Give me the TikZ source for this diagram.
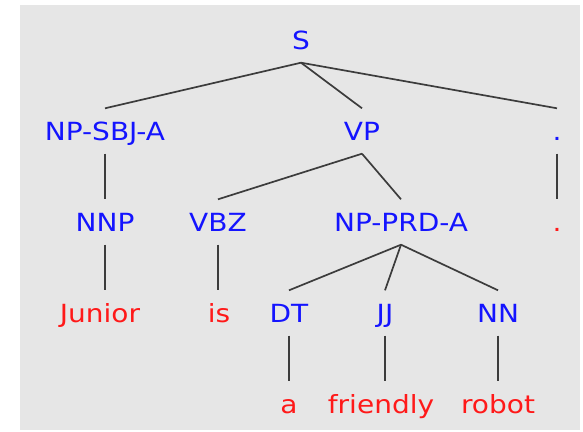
\documentclass[tikz,border=0pt]{standalone}
\usepackage{fontspec}
\newfontfamily\treefont[FakeStretch=1.12]{DejaVu Sans}
\definecolor{panel}{RGB}{230,230,230}
\definecolor{cat}{RGB}{20,20,255}
\definecolor{word}{RGB}{255,25,25}
\definecolor{edge}{RGB}{60,60,60}
\begin{document}
\begin{tikzpicture}[x=1pt,y=-1pt,
  lbl/.style={anchor=base,inner xsep=0pt,inner ysep=13.5pt,text height=18pt,text depth=0pt,
    font=\treefont\fontsize{25}{30}\selectfont},
  tag/.style={lbl,text=cat},
  leaf/.style={lbl,text=word},
  branch/.style={draw=edge,line width=1.7pt}]
\useasboundingbox (0,0) rectangle (583,431);
\fill[panel] (20,5) rectangle (580,430);

% phrase and part-of-speech labels
\node[tag] (s)    at (301,49)  {S};
\node[tag] (npsbj) at (105,140) {NP-SBJ-A};
\node[tag] (vp)   at (362,140) {VP};
\node[tag] (pt1)  at (557,140) {.};
\node[tag] (nnp)  at (105,231) {NNP};
\node[tag] (vbz)  at (218,231) {VBZ};
\node[tag] (npprd) at (401,231) {NP-PRD-A};
\node[tag] (dt)   at (289,322) {DT};
\node[tag] (jj)   at (385,322) {JJ};
\node[tag] (nn)   at (498,322) {NN};

% words
\node[leaf] (w1) at (100,322) {Junior};
\node[leaf] (w2) at (219,322) {is};
\node[leaf] (pt2) at (557,231) {.};
\node[leaf] (w3) at (289,413) {a};
\node[leaf] (w4) at (381,413) {friendly};
\node[leaf] (w5) at (498,413) {robot};

% branches
\draw[branch] (s.south) -- (npsbj.north);
\draw[branch] (s.south) -- (vp.north);
\draw[branch] (s.south) -- (pt1.north);
\draw[branch] (npsbj.south) -- (nnp.north);
\draw[branch] (vp.south) -- (vbz.north);
\draw[branch] (vp.south) -- (npprd.north);
\draw[branch] (pt1.south) -- (pt2.north);
\draw[branch] (nnp.south) -- (nnp.south |- w1.north);
\draw[branch] (vbz.south) -- (vbz.south |- w2.north);
\draw[branch] (npprd.south) -- (dt.north);
\draw[branch] (npprd.south) -- (jj.north);
\draw[branch] (npprd.south) -- (nn.north);
\draw[branch] (dt.south) -- (dt.south |- w3.north);
\draw[branch] (jj.south) -- (jj.south |- w4.north);
\draw[branch] (nn.south) -- (nn.south |- w5.north);
\end{tikzpicture}
\end{document}
